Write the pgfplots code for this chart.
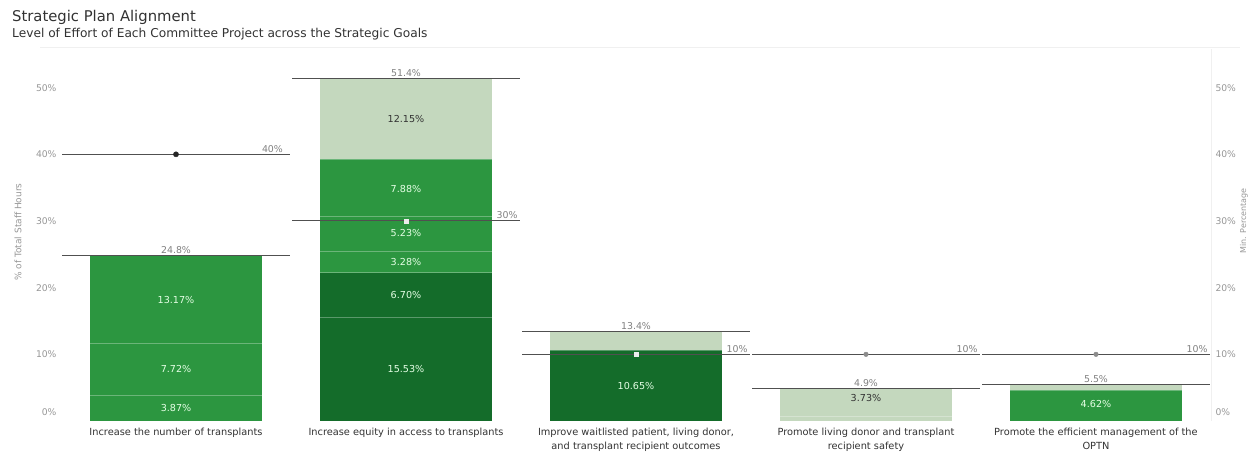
\documentclass[border=0pt]{standalone}
\usepackage{pgfplots}
\pgfplotsset{compat=1.18}
\usepackage{fontspec}
\setmainfont{DejaVu Sans}
\definecolor{mid}{RGB}{44,150,64}
\definecolor{dark}{RGB}{20,108,42}
\definecolor{light}{RGB}{196,216,190}
\definecolor{txt}{RGB}{50,50,50}
\definecolor{tickc}{RGB}{150,150,150}
\definecolor{refl}{RGB}{80,80,80}
\newcommand{\seg}[5]{\addplot[fill=#5, draw=none, forget plot] coordinates {(#1,#3) (#2,#3) (#2,#4) (#1,#4)};}
\begin{document}
\begin{tikzpicture}[font=\fontsize{9.5}{11}\selectfont]
\useasboundingbox (-61pt,-39pt) rectangle (1187pt,421pt);
\node[anchor=base west, text=txt, font=\fontsize{14.8}{16}\selectfont, inner sep=0pt] at (-49pt,399pt) {Strategic Plan Alignment};
\node[anchor=base west, text=txt, font=\fontsize{12.2}{14}\selectfont, inner sep=0pt] at (-49pt,383pt) {Level of Effort of Each Committee Project across the Strategic Goals};
\draw[gray!12, line width=0.8pt] (-21pt,374pt) -- (1179pt,374pt);
\begin{axis}[
  at={(0pt,0pt)}, anchor=south west,
  scale only axis, width=1150pt, height=372pt,
  xmin=-0.5, xmax=4.5, ymin=0, ymax=55.8,
  axis line style={draw=none},
  ytick={0,10,20,30,40,50},
  yticklabels={\raisebox{17pt}{0\%},10\%,20\%,30\%,40\%,50\%},
  yticklabel style={text=tickc, font=\fontsize{9.2}{10}\selectfont, xshift=-1pt},
  /pgf/number format/assume math mode=true,
  major tick length=0pt,
  xtick={0,1,2,3,4},
  xticklabels={Increase the number of transplants, Increase equity in access to transplants, {Improve waitlisted patient, living donor,\\and transplant recipient outcomes}, {Promote living donor and transplant\\recipient safety}, {Promote the efficient management of the\\OPTN}},
  xticklabel style={text=txt, align=center, font=\fontsize{9.8}{14}\selectfont, yshift=-3.5pt},
  clip=false,
]
% bars
\seg{-0.374}{0.374}{0}{3.87}{mid}
\seg{-0.374}{0.374}{3.87}{11.59}{mid}
\seg{-0.374}{0.374}{11.59}{24.76}{mid}
\seg{0.626}{1.374}{0}{15.53}{dark}
\seg{0.626}{1.374}{15.53}{22.23}{dark}
\seg{0.626}{1.374}{22.23}{25.51}{mid}
\seg{0.626}{1.374}{25.51}{30.74}{mid}
\seg{0.626}{1.374}{30.74}{39.25}{mid}
\seg{0.626}{1.374}{39.25}{51.4}{light}
\seg{1.626}{2.374}{0}{10.65}{dark}
\seg{1.626}{2.374}{10.65}{13.4}{light}
\seg{2.626}{3.374}{0}{0.7}{light}
\seg{2.626}{3.374}{0.7}{4.9}{light}
\seg{3.626}{4.374}{0}{4.62}{mid}
\seg{3.626}{4.374}{4.62}{5.5}{light}
% separators
\addplot[draw=none, mark=none, forget plot,
  error bars/.cd, x dir=both, x fixed=0.374, error mark=none,
  error bar style={draw=white, draw opacity=0.3, line width=0.8pt}]
  coordinates {(0,3.87) (0,11.59) (1,15.53) (1,22.23) (1,25.51) (1,30.74) (1,39.25) (2,10.65) (3,0.7) (4,4.62)};
% segment labels (white)
\addplot[draw=none, mark=none, forget plot, nodes near coords, point meta=explicit symbolic,
  every node near coord/.style={anchor=center, text=white!90!green, font=\fontsize{9.6}{10}\selectfont}]
  table[meta=lab] {
x y lab
0 1.935 3.87\%
0 7.73 7.72\%
0 18.175 13.17\%
1 7.765 15.53\%
1 18.88 6.70\%
1 23.87 3.28\%
1 28.125 5.23\%
1 34.8 7.88\%
2 5.3 10.65\%
4 2.6 4.62\%
};
% segment labels (dark)
\addplot[draw=none, mark=none, forget plot, nodes near coords, point meta=explicit symbolic,
  every node near coord/.style={anchor=center, text=txt, font=\fontsize{9.6}{10}\selectfont}]
  table[meta=lab] {
x y lab
1 45.3 12.15\%
3 3.4 3.73\%
};
% totals
\addplot[draw=none, mark=none, forget plot, nodes near coords, point meta=explicit symbolic,
  every node near coord/.style={anchor=south, text=gray, font=\fontsize{9.4}{10}\selectfont, yshift=-1.5pt},
  error bars/.cd, x dir=both, x fixed=0.495, error mark=none,
  error bar style={draw=refl, line width=1pt}]
  table[meta=lab] {
x y lab
0 24.8 24.8\%
1 51.4 51.4\%
2 13.4 13.4\%
3 4.9 4.9\%
4 5.5 5.5\%
};
% targets
\addplot[draw=none, mark=none, forget plot,
  error bars/.cd, x dir=both, x fixed=0.495, error mark=none,
  error bar style={draw=refl, line width=1pt}]
  coordinates {(0,40) (1,30) (2,10) (3,10) (4,10)};
\addplot[only marks, mark=*, mark size=2.6pt, mark options={draw=black!85, fill=black!85}, forget plot] coordinates {(0,40)};
\addplot[only marks, mark=square*, mark size=1.8pt, mark options={draw=white!85!gray, fill=white!85!gray}, forget plot] coordinates {(1,30) (2,10)};
\addplot[only marks, mark=*, mark size=2.3pt, mark options={draw=gray!90, fill=gray!90}, forget plot] coordinates {(3,10) (4,10)};
% target labels
\addplot[draw=none, mark=none, forget plot, nodes near coords, point meta=explicit symbolic,
  every node near coord/.style={anchor=south east, text=gray, font=\fontsize{9.4}{10}\selectfont, yshift=-1.5pt, inner xsep=1pt}]
  table[meta=lab] {
x y lab
0.47 40 40\%
1.49 30 30\%
2.49 10 10\%
3.49 10 10\%
4.49 10 10\%
};
\draw[gray!12, line width=0.8pt] (rel axis cs:1,0) -- (rel axis cs:1,1);
\end{axis}
\begin{axis}[
  at={(0pt,0pt)}, anchor=south west,
  scale only axis, width=1150pt, height=372pt,
  xmin=-0.5, xmax=4.5, ymin=0, ymax=55.8,
  axis line style={draw=none},
  axis y line*=right, axis x line=none,
  ytick={0,10,20,30,40,50},
  yticklabels={\raisebox{17pt}{0\%},10\%,20\%,30\%,40\%,50\%},
  yticklabel style={text=tickc, font=\fontsize{9.2}{10}\selectfont, xshift=1pt},
  /pgf/number format/assume math mode=true,
  major tick length=0pt,
]
\addplot[draw=none, mark=none] coordinates {(0,0)};
\end{axis}
\node[rotate=90, text=tickc, font=\fontsize{9}{10}\selectfont] at (-43pt,189pt) {\% of Total Staff Hours};
\node[rotate=90, text=tickc, font=\fontsize{8}{9}\selectfont] at (1183pt,200pt) {Min. Percentage};
\end{tikzpicture}
\end{document}
